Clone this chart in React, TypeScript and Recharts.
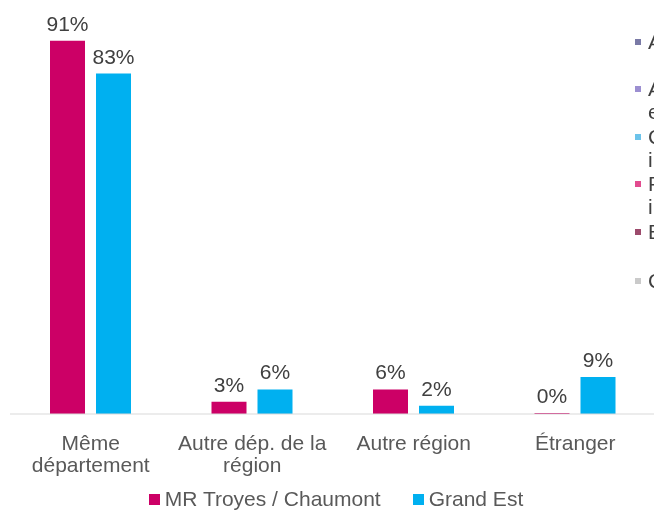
import { BarChart, Bar, XAxis, YAxis, Legend, LabelList } from "recharts";

const categories = ["Même\ndépartement", "Autre dép. de la\nrégion", "Autre région", "Étranger"];
const troyesChaumont = [91, 3, 6, 0];
const grandEst = [83, 6, 2, 9];
const seriesNames = ["MR Troyes / Chaumont", "Grand Est"];
const seriesColors = ["#cc0066", "#00b0f0"];

// partial legend of a neighbouring chart, cut off at the right edge
const sideLegendColors = ["#7a7aa6", "#9c8fd1", "#6cc3ea", "#e24b8f", "#9c4a6c", "#cacaca"];
const sideLegendLines = [["A"], ["A", "e"], ["C", "i"], ["F", "i"], ["E"], ["C"]];
const sideLegendTops = [22, 69, 117, 164, 212, 261];

const data = categories.map((name, i) => ({
  name,
  troyes: troyesChaumont[i],
  grandEst: grandEst[i],
}));

const FONT = "'Liberation Sans', Arial, sans-serif";
const FS = 21;

function CategoryTick({ x, y, payload }: any) {
  const lines = String(payload.value).split("\n");
  return (
    <text x={x} y={y} textAnchor="middle" fill="#595959" fontSize={FS} fontFamily={FONT}>
      {lines.map((line, i) => (
        <tspan key={i} x={x} dy={i === 0 ? 28 : 22}>
          {line}
        </tspan>
      ))}
    </text>
  );
}

function BottomLegend() {
  return (
    <div style={{ display: "flex", justifyContent: "center", alignItems: "center", paddingLeft: 6, height: 24 }}>
      {seriesNames.map((n, i) => (
        <div key={n} style={{ display: "flex", alignItems: "center", marginLeft: i ? 32 : 0 }}>
          <span style={{ width: 11, height: 11, background: seriesColors[i], marginRight: 5 }} />
          <span style={{ color: "#595959", fontSize: FS, fontFamily: FONT }}>{n}</span>
        </div>
      ))}
    </div>
  );
}

const pct = (v: any) => `${v}%`;

export default function App() {
  return (
    <div
      style={{
        position: "fixed",
        left: 8,
        top: 8,
        width: 646,
        height: 503,
        overflow: "hidden",
        fontFamily: FONT,
      }}
    >
      <BarChart
        width={648}
        height={503}
        data={data}
        margin={{ top: 0, right: 0, left: 2, bottom: 0 }}
        barGap={11}
        barSize={35}
      >
        <XAxis
          dataKey="name"
          axisLine={{ stroke: "#d9d9d9" }}
          tickLine={false}
          interval={0}
          height={73}
          tick={<CategoryTick />}
        />
        <YAxis hide domain={[0, 99]} />
        <Legend verticalAlign="bottom" wrapperStyle={{ height: 24 }} content={<BottomLegend />} />
        <Bar dataKey="troyes" name={seriesNames[0]} fill={seriesColors[0]} minPointSize={1} isAnimationActive={false}>
          <LabelList dataKey="troyes" position="top" formatter={pct} fill="#404040" fontSize={FS} fontFamily={FONT} offset={10} />
        </Bar>
        <Bar dataKey="grandEst" name={seriesNames[1]} fill={seriesColors[1]} isAnimationActive={false}>
          <LabelList dataKey="grandEst" position="top" formatter={pct} fill="#404040" fontSize={FS} fontFamily={FONT} offset={10} />
        </Bar>
      </BarChart>
      {sideLegendLines.map((lines, i) => (
        <div
          key={i}
          style={{
            position: "absolute",
            left: 627,
            top: sideLegendTops[i],
            zIndex: 2,
            fontSize: FS,
            lineHeight: "23px",
            color: "#404040",
            whiteSpace: "nowrap",
          }}
        >
          <span
            style={{
              position: "absolute",
              left: 0,
              top: 9,
              width: 6,
              height: 6,
              background: sideLegendColors[i],
            }}
          />
          {lines.map((l, j) => (
            <div key={j} style={{ marginLeft: 13 }}>
              {l}
            </div>
          ))}
        </div>
      ))}
    </div>
  );
}
